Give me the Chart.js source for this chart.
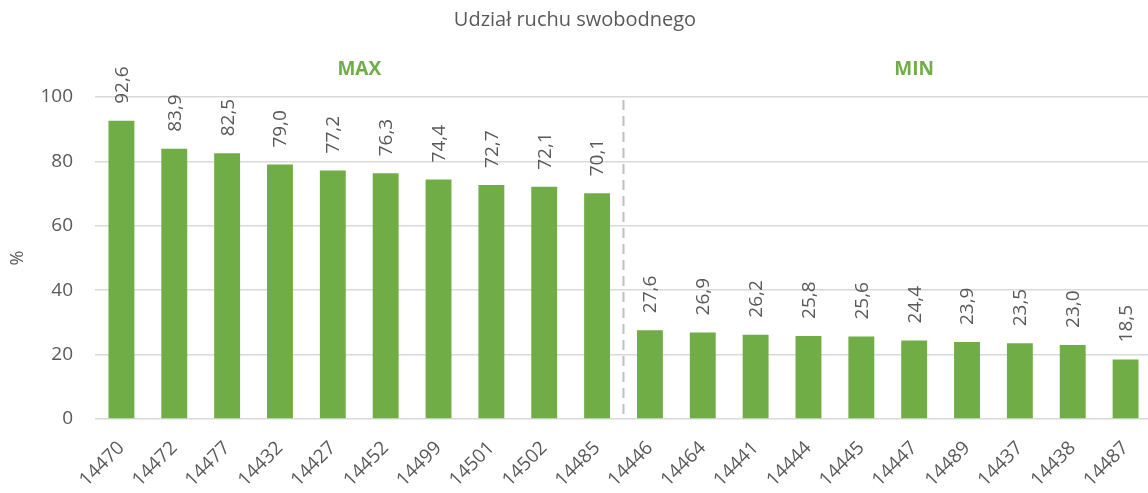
<!DOCTYPE html>
<html>
<head>
<meta charset="utf-8">
<script src="https://cdn.jsdelivr.net/npm/chart.js@4/dist/chart.umd.min.js"></script>
<style>
  html, body { margin: 0; padding: 0; background: #fff; overflow: hidden; }
  #wrap { width: 1152px; height: 493px; }
</style>
</head>
<body>
<div id="wrap"><canvas id="chart"></canvas></div>
<script>
// Dane
const categories = ['14470', '14472', '14477', '14432', '14427', '14452', '14499', '14501', '14502', '14485',
                    '14446', '14464', '14441', '14444', '14445', '14447', '14489', '14437', '14438', '14487'];
const shares = [92.6, 83.9, 82.5, 79.0, 77.2, 76.3, 74.4, 72.7, 72.1, 70.1,
                27.6, 26.9, 26.2, 25.8, 25.6, 24.4, 23.9, 23.5, 23.0, 18.5];
const yTicks = [0, 20, 40, 60, 80, 100];
const groupLabels = [
    { text: 'MAX', at: 4.5 },
    { text: 'MIN', at: 15 }
];
const dividerAt = 9.5;

const GREEN = '#70AD47';
const TEXT = '#595959';
const FONT = "'Open Sans', 'Noto Sans', sans-serif";

// --- Etykiety, linia podziału, tytuły ---
const extras = {
    id: 'extras',
    afterDatasetsDraw(chart) {
        const { ctx, scales: { x, y } } = chart;
        const meta = chart.getDatasetMeta(0);

        // wartości nad słupkami (obrócone)
        ctx.save();
        ctx.fillStyle = TEXT;
        ctx.font = `19px ${FONT}`;
        ctx.textAlign = 'left';
        ctx.textBaseline = 'middle';
        meta.data.forEach((bar, i) => {
            ctx.save();
            ctx.translate(bar.x + 1, bar.y - 17);
            ctx.rotate(-Math.PI / 2);
            ctx.fillText(shares[i].toFixed(1).replace('.', ','), 0, 0);
            ctx.restore();
        });
        ctx.restore();

        // przerywana linia MAX / MIN
        const xd = x.getPixelForValue(dividerAt);
        ctx.save();
        ctx.strokeStyle = '#BFBFBF';
        ctx.lineWidth = 2;
        ctx.setLineDash([10, 6]);
        ctx.beginPath();
        ctx.moveTo(xd, y.getPixelForValue(100) + 3);
        ctx.lineTo(xd, y.getPixelForValue(0));
        ctx.stroke();
        ctx.restore();

        // MAX / MIN
        ctx.save();
        ctx.fillStyle = GREEN;
        ctx.font = `bold 19px ${FONT}`;
        ctx.textAlign = 'center';
        ctx.textBaseline = 'middle';
        groupLabels.forEach(g => {
            ctx.fillText(g.text, x.getPixelForValue(g.at), 70);
        });
        ctx.restore();

        // tytuł
        ctx.save();
        ctx.fillStyle = TEXT;
        ctx.font = `20px ${FONT}`;
        ctx.textAlign = 'center';
        ctx.textBaseline = 'middle';
        ctx.fillText('Udział ruchu swobodnego', 575, 20);
        ctx.restore();

        // tytuł osi Y
        ctx.save();
        ctx.fillStyle = TEXT;
        ctx.font = `18px ${FONT}`;
        ctx.textAlign = 'center';
        ctx.textBaseline = 'middle';
        ctx.translate(18, 258);
        ctx.rotate(-Math.PI / 2);
        ctx.fillText('%', 0, 0);
        ctx.restore();
    }
};

const ctx = document.getElementById('chart').getContext('2d');
const chart = new Chart(ctx, {
    type: 'bar',
    data: {
        labels: categories,
        datasets: [{
            data: shares,
            backgroundColor: GREEN,
            borderWidth: 0,
            barPercentage: 0.49,
            categoryPercentage: 1
        }]
    },
    options: {
        responsive: true,
        maintainAspectRatio: false,
        animation: false,
        layout: { padding: { top: 97, left: 0, right: 0, bottom: 0 } },
        plugins: {
            legend: { display: false },
            tooltip: { enabled: false }
        },
        scales: {
            x: {
                grid: { display: false },
                border: { display: false },
                ticks: {
                    color: TEXT,
                    font: { family: FONT, size: 19 },
                    minRotation: 45,
                    maxRotation: 45,
                    padding: 10
                },
                afterFit: (scale) => { scale.height = 74; }
            },
            y: {
                min: 0,
                max: 100,
                afterBuildTicks: (scale) => { scale.ticks = yTicks.map(v => ({ value: v })); },
                grid: { color: '#D9D9D9', lineWidth: 1.5, drawTicks: false },
                border: { display: false },
                ticks: {
                    color: TEXT,
                    font: { family: FONT, size: 19 },
                    padding: 22
                },
                afterFit: (scale) => { scale.width = 95; }
            }
        }
    },
    plugins: [extras]
});
</script>
</body>
</html>
